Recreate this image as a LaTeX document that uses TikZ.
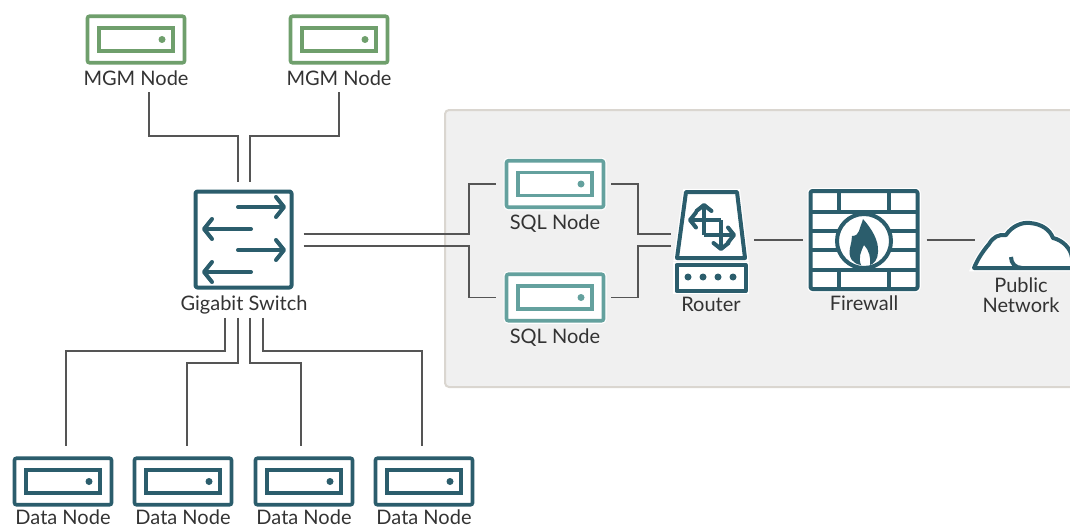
\documentclass[tikz,border=0pt]{standalone}
\usepackage{fontspec}
\setmainfont{Lato}
\usetikzlibrary{arrows.meta}
\definecolor{tealdark}{HTML}{2B5D6C}
\definecolor{sqlteal}{HTML}{64A19E}
\definecolor{mgmgreen}{HTML}{6F9F6C}
\definecolor{wiregray}{HTML}{555555}
\definecolor{labelgray}{HTML}{333333}
\definecolor{panelfill}{HTML}{F0F0F0}
\definecolor{panelline}{HTML}{DAD6D0}
\tikzset{
	srvbox/.style={shape=rectangle,draw=#1,fill=white,line width=3.6pt,rounded corners=2pt,minimum width=97pt,minimum height=46.5pt,inner sep=0pt,preaction={draw=white,line width=6pt}},
	srvslot/.style={shape=rectangle,draw=#1,fill=white,line width=3.4pt,minimum width=74pt,minimum height=23pt,inner sep=0pt},
	srvdot/.style={shape=circle,fill=#1,minimum size=7pt,inner sep=0pt},
	lbl/.style={text=labelgray,font=\fontsize{20}{20}\selectfont,inner sep=0pt,anchor=base,align=center},
	wire/.style={draw=wiregray,line width=1.4pt},
	icon/.style={draw=tealdark,line width=4pt,line join=round},
	barb/.style={icon,line cap=round,-{Straight Barb[length=8pt,width=20pt,round]}},
	smallbarb/.style={draw=tealdark,line width=4pt,-{Straight Barb[length=6pt,width=15pt,round]}},
}
\begin{document}
\begin{tikzpicture}[x=1pt,y=-1pt]
	\useasboundingbox (0,0) rectangle (1070,527);
	\node[shape=rectangle,draw=panelline,fill=panelfill,line width=2pt,rounded corners=4pt,minimum width=640pt,minimum height=277pt,inner sep=0pt] (panel) at (765,248.5) {};
	\foreach \n/\x/\y/\b/\c/\t in {mgma/136/39.5/85/mgmgreen/MGM Node,mgmb/339/39.5/85/mgmgreen/MGM Node,sqla/555/184/229.5/sqlteal/SQL Node,sqlb/555/297.5/343/sqlteal/SQL Node,dataa/63/481.5/524/tealdark/Data Node,datab/183/481.5/524/tealdark/Data Node,datac/304/481.5/524/tealdark/Data Node,datad/424/481.5/524/tealdark/Data Node}{
		\node[srvbox=\c] (\n) at (\x,\y) {};
		\node[srvslot=\c] (\n-slot) at (\x,\y) {};
		\node[srvdot=\c] (\n-dot) at (\x+26,\y) {};
		\node[lbl] (\n-txt) at (\x,\b) {\t};
	}
	\node[shape=rectangle,icon,fill=white,rounded corners=2pt,minimum width=96pt,minimum height=96pt,inner sep=0pt] (switch) at (243.5,239.5) {};
	\node[lbl] (switch-txt) at (244,310) {Gigabit Switch};
	\draw[barb] (238,207) -- (286,207);
	\draw[barb] (251,229) -- (202,229);
	\draw[barb] (238,250) -- (286,250);
	\draw[barb] (251,272) -- (202,272);
	\node[shape=rectangle,minimum width=70pt,minimum height=99pt,inner sep=0pt] (router) at (711,241.5) {};
	\draw[icon,fill=white,preaction={draw=white,line width=6.5pt}] (686,192) -- (737,192) -- (745,258) -- (677,258) -- cycle;
	\draw[icon,fill=white,preaction={draw=white,line width=6.5pt}] (676.5,265) rectangle (745.5,291);
	\foreach \x in {688,703,718,733}
		\fill[tealdark] (\x,277) circle (3.5pt);
	\draw[smallbarb] (704,235) -- (704,203);
	\draw[smallbarb] (721,220) -- (688,220);
	\draw[smallbarb] (721,220) -- (721,251);
	\draw[smallbarb] (704,235) -- (736,235);
	\node[lbl] (router-txt) at (711,311) {Router};
	\node[shape=rectangle,icon,fill=white,rounded corners=2pt,minimum width=107pt,minimum height=98pt,inner sep=0pt,preaction={draw=white,line width=6.5pt}] (firewall) at (864,240) {};
	\draw[icon] (810,212) -- (918,212);
	\draw[icon] (810,270) -- (918,270);
	\draw[icon] (810,231) -- (840,231);
	\draw[icon] (888,231) -- (918,231);
	\draw[icon] (810,250) -- (840,250);
	\draw[icon] (888,250) -- (918,250);
	\draw[icon] (839,191) -- (839,212);
	\draw[icon] (889,191) -- (889,212);
	\draw[icon] (839,270) -- (839,290);
	\draw[icon] (889,270) -- (889,290);
	\node[shape=circle,icon,fill=white,minimum size=54pt,inner sep=0pt] (firering) at (864,241) {};
	\fill[tealdark] (863,219) .. controls (871,228) and (879,240) .. (878,252) .. controls (878,259) and (874,264) .. (870,265) .. controls (871,258) and (869,250) .. (864,245) .. controls (861,251) and (858,258) .. (861,265) .. controls (853,264) and (848,258) .. (850,248) .. controls (851,243) and (852,240) .. (852,236) .. controls (856,236) and (858,234) .. (859,231) .. controls (860,227) and (862,223) .. (863,219) -- cycle;
	\node[lbl] (firewall-txt) at (864,310) {Firewall};
	\node[shape=rectangle,minimum width=98pt,minimum height=49pt,inner sep=0pt] (cloud) at (1021,246) {};
	\draw[icon,fill=white,preaction={draw=white,line width=6.5pt}] (974,268) .. controls (978,258) and (984,250) .. (989,244) .. controls (993,237) and (999,234) .. (1006,235) .. controls (1012,226) and (1022,222) .. (1030,223) .. controls (1042,224) and (1050,230) .. (1053,238) .. controls (1062,240) and (1071,248) .. (1072,258) -- (1072,268) -- cycle;
	\draw[icon] (1011,257) .. controls (1011,263) and (1015,268) .. (1022,268);
	\node[lbl] (cloud-txt) at (1021,312) {Public\\Network};
	\draw[wire] ([xshift=13pt,yshift=-7pt]mgma-txt.south) |- (238,136) -- ([xshift=-5.5pt,yshift=8pt]switch.north);
	\draw[wire] ([yshift=-7pt]mgmb-txt.south) |- (250,136) -- ([xshift=6.5pt,yshift=8pt]switch.north);
	\draw[wire] ([xshift=-19pt,yshift=-4pt]switch-txt.south) |- (66,351) -- ([xshift=3pt,yshift=10pt]dataa.north);
	\draw[wire] ([xshift=-6pt,yshift=-4pt]switch-txt.south) |- (187,363) -- ([xshift=4pt,yshift=10pt]datab.north);
	\draw[wire] ([xshift=6pt,yshift=-4pt]switch-txt.south) |- (301,363) -- ([xshift=-3pt,yshift=10pt]datac.north);
	\draw[wire] ([xshift=19pt,yshift=-4pt]switch-txt.south) |- (422,351) -- ([xshift=-2pt,yshift=10pt]datad.north);
	\draw[wire] ([xshift=10pt,yshift=5.5pt]switch.east) -- (469,234) |- ([xshift=-9pt]sqla.west);
	\draw[wire] ([xshift=10pt,yshift=-6.5pt]switch.east) -- (469,246) |- ([xshift=-9pt]sqlb.west);
	\draw[wire] ([xshift=6pt]sqla.east) -| (638,234) -- ([xshift=-5pt,yshift=7.5pt]router.west);
	\draw[wire] ([xshift=6pt]sqlb.east) -| (638,246) -- ([xshift=-5pt,yshift=-4.5pt]router.west);
	\draw[wire] ([xshift=8pt,yshift=1.5pt]router.east) -- ([xshift=-6pt]firewall.west);
	\draw[wire] ([xshift=7pt]firewall.east) -- ([xshift=3pt,yshift=6pt]cloud.west);
\end{tikzpicture}
\end{document}
